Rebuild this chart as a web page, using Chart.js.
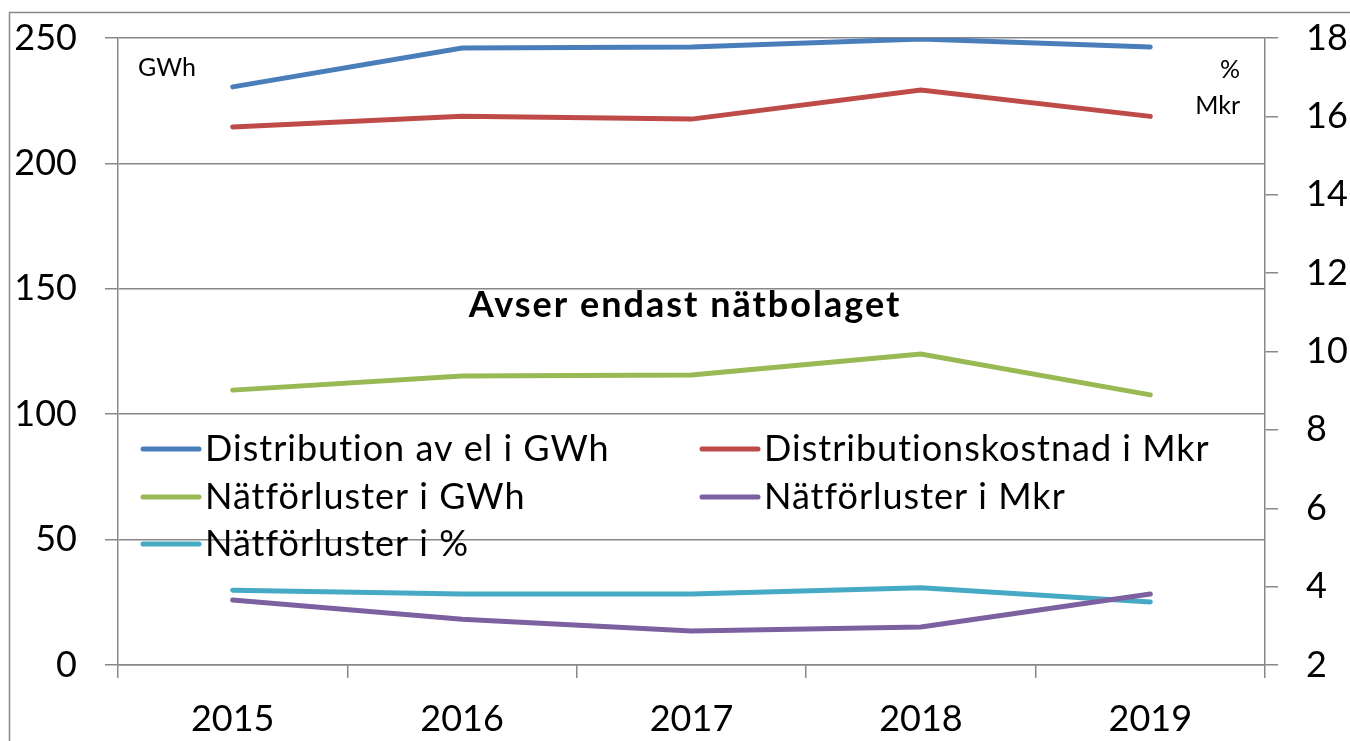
<!DOCTYPE html>
<html>
<head>
<meta charset="utf-8">
<script src="https://cdn.jsdelivr.net/npm/chart.js@4"></script>
<style>
	html, body { margin: 0; padding: 0; background: #fff; }
	#wrap { width: 1350px; height: 741px; position: relative; }
</style>
</head>
<body>
<div id="wrap"><canvas id="lineChart"></canvas></div>
<script>
(function () {
	'use strict';

	// Data
	var years = ['2015', '2016', '2017', '2018', '2019'];
	var distributionGWh = [230.5, 246, 246.4, 249.6, 246.4];
	var distributionCostMkr = [15.73, 16.0, 15.93, 16.67, 16.0];
	var lossesGWh = [109.6, 115.2, 115.6, 124, 107.7];
	var lossesMkr = [3.66, 3.17, 2.87, 2.97, 3.81];
	var lossesPct = [3.91, 3.81, 3.81, 3.97, 3.61];

	var gridColor = '#888888';
	var fontFamily = 'Lato, "Open Sans", sans-serif';

	// outer frame, notes and legend drawn inside the plot
	var extras = {
		id: 'extras',
		beforeDraw: function (chart) {
			var ctx = chart.ctx;
			ctx.save();
			ctx.strokeStyle = gridColor;
			ctx.lineWidth = 1.5;
			ctx.strokeRect(9.5, 12.5, 1500, 900);
			ctx.restore();
		},
		afterDatasetsDraw: function (chart) {
			var ctx = chart.ctx;
			ctx.save();
			ctx.fillStyle = '#000';
			ctx.textBaseline = 'middle';

			ctx.font = '25px ' + fontFamily;
			ctx.textAlign = 'left';
			ctx.fillText('GWh', 138, 68);
			ctx.textAlign = 'right';
			ctx.fillText('%', 1240, 70);
			ctx.fillText('Mkr', 1240, 106);

			ctx.font = 'bold 36px ' + fontFamily;
			ctx.letterSpacing = '2px';
			ctx.textAlign = 'center';
			ctx.fillText('Avser endast nätbolaget', 685, 305);

			var cols = [143, 702];
			var rows = [449, 497, 544];
			ctx.font = '36px ' + fontFamily;
			ctx.letterSpacing = '1px';
			ctx.textAlign = 'left';
			ctx.lineCap = 'round';
			chart.data.datasets.forEach(function (ds, i) {
				var x = cols[i % 2];
				var y = rows[Math.floor(i / 2)];
				ctx.strokeStyle = ds.borderColor;
				ctx.lineWidth = 5;
				ctx.beginPath();
				ctx.moveTo(x, y);
				ctx.lineTo(x + 56, y);
				ctx.stroke();
				ctx.fillStyle = '#000';
				ctx.fillText(ds.label, x + 62, y);
			});
			ctx.restore();
		}
	};

	function series(label, data, color, axis) {
		return {
			label: label,
			data: data,
			borderColor: color,
			backgroundColor: color,
			borderWidth: 5,
			borderCapStyle: 'round',
			pointRadius: 0,
			tension: 0,
			yAxisID: axis
		};
	}

	// fixed axis width, and no extra label padding above/below
	function fitY(width) {
		return function (s) {
			s.width = width;
			s.paddingTop = 0;
			s.paddingBottom = 0;
		};
	}

	var lineChart = new Chart(document.getElementById('lineChart'), {
		type: 'line',
		plugins: [extras],
		data: {
			labels: years,
			datasets: [
				series('Distribution av el i GWh', distributionGWh, '#4a7ebb', 'y'),
				series('Distributionskostnad i Mkr', distributionCostMkr, '#be4b48', 'y1'),
				series('Nätförluster i GWh', lossesGWh, '#98b954', 'y'),
				series('Nätförluster i Mkr', lossesMkr, '#7d60a0', 'y1'),
				series('Nätförluster i %', lossesPct, '#46aac5', 'y1')
			]
		},
		options: {
			responsive: true,
			maintainAspectRatio: false,
			animation: false,
			layout: { padding: { top: 38, left: 0, right: 0, bottom: 0 } },
			plugins: {
				legend: { display: false },
				tooltip: { enabled: false }
			},
			scales: {
				x: {
					offset: true,
					afterFit: function (s) {
						s.height = 76;
						s.paddingLeft = 0;
						s.paddingRight = 0;
					},
					grid: {
						offset: true,
						drawOnChartArea: false,
						color: gridColor,
						lineWidth: 1.5,
						tickLength: 13
					},
					border: { color: gridColor, width: 1.5 },
					ticks: {
						color: '#000',
						padding: 20,
						maxRotation: 0,
						font: { family: fontFamily, size: 36 }
					}
				},
				y: {
					position: 'left',
					min: 0,
					max: 250,
					afterFit: fitY(118),
					grid: {
						color: gridColor,
						lineWidth: 1.5,
						tickLength: 13
					},
					border: { color: gridColor, width: 1.5 },
					ticks: {
						stepSize: 50,
						color: '#000',
						padding: 28,
						font: { family: fontFamily, size: 36 }
					}
				},
				y1: {
					position: 'right',
					min: 2,
					max: 18,
					afterFit: fitY(85),
					grid: {
						drawOnChartArea: false,
						color: gridColor,
						lineWidth: 1.5,
						tickLength: 13
					},
					border: { color: gridColor, width: 1.5 },
					ticks: {
						stepSize: 2,
						color: '#000',
						padding: 28,
						font: { family: fontFamily, size: 36 }
					}
				}
			}
		}
	});
})();
</script>
</body>
</html>
